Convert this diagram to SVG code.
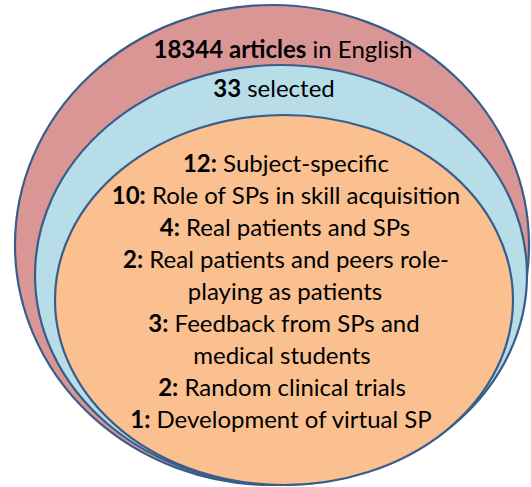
<svg xmlns="http://www.w3.org/2000/svg" width="531" height="487" viewBox="0 0 531 487">
<style>
ellipse{stroke:#385D8A;stroke-width:2.2}
text{font-family:Lato,"Open Sans","Liberation Sans",sans-serif;font-size:24px;fill:#000;text-anchor:middle}
.b{font-weight:bold}
</style>
<rect width="531" height="487" fill="#fff"/>
<g id="outer">
<ellipse cx="272" cy="245" rx="257" ry="240" fill="#D99694"/>
<text x="283" y="58"><tspan class="b">18344 articles</tspan> in English</text>
</g>
<g id="middle">
<ellipse cx="281" cy="275" rx="246" ry="210" fill="#B7DEE8"/>
<text x="274" y="97"><tspan class="b">33</tspan> selected</text>
</g>
<g id="inner">
<ellipse cx="284" cy="300" rx="229" ry="185" fill="#FAC090"/>
<text x="286" y="172"><tspan class="b">12:</tspan> Subject-specific</text>
<text x="286" y="204"><tspan class="b">10:</tspan> Role of SPs in skill acquisition</text>
<text x="285" y="236"><tspan class="b">4:</tspan> Real patients and SPs</text>
<text x="286" y="268"><tspan class="b">2:</tspan> Real patients and peers role-</text>
<text x="285" y="300">playing as patients</text>
<text x="284" y="332"><tspan class="b">3:</tspan> Feedback from SPs and</text>
<text x="282" y="364">medical students</text>
<text x="282" y="396"><tspan class="b">2:</tspan> Random clinical trials</text>
<text x="281" y="428"><tspan class="b">1:</tspan> Development of virtual SP</text>
</g>
</svg>
